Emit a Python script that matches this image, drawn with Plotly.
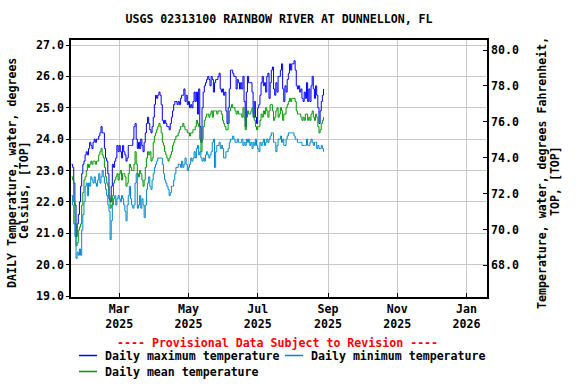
import pandas as pd
import plotly.graph_objects as go

start_date = "2025-01-18"

max_temp = [
    23.2, 23.1, 22.6, 21.9, 20.9, 21.3, 21.6, 22.0, 22.5, 22.9,
    23.2, 23.3, 23.5, 23.6, 23.5, 23.7, 23.9, 23.8, 23.7, 23.9,
    24.0, 23.9, 24.0, 24.0, 24.1, 24.2, 24.4, 24.2, 24.2, 23.7,
    23.4, 23.3, 22.9, 22.1, 22.0, 22.5, 23.2, 23.1, 23.3, 23.4,
    23.8, 23.6, 23.8, 23.6, 23.4, 23.8, 23.6, 23.5, 23.3, 23.4,
    23.8, 23.8, 23.8, 23.8, 24.0, 24.4, 24.5, 24.0, 23.7, 23.9,
    23.7, 24.0, 23.8, 23.6, 23.9, 24.2, 24.5, 24.7, 24.5, 24.3,
    24.2, 24.4, 24.7, 25.1, 25.4, 25.3, 25.4, 25.5, 25.4, 25.1,
    24.6, 24.5, 24.6, 24.5, 24.4, 24.4, 24.3, 24.5, 24.7, 24.9,
    25.1, 25.2, 25.2, 25.1, 25.2, 25.1, 25.3, 25.4, 25.4, 25.6,
    25.2, 25.4, 25.1, 25.2, 25.0, 25.1, 25.0, 25.2, 25.5, 25.2,
    25.5, 24.8, 25.6, 24.4, 23.9, 25.0, 25.5, 25.7, 25.8, 25.9,
    26.0, 25.9, 25.7, 26.0, 25.9, 25.5, 25.8, 25.9, 25.9, 26.0,
    26.1, 25.6, 25.5, 25.6, 25.4, 25.5, 24.9, 24.5, 25.0, 25.6,
    26.2, 26.2, 26.1, 26.0, 26.0, 25.6, 25.9, 25.8, 25.6, 25.8,
    25.6, 26.0, 25.2, 24.4, 25.5, 26.0, 25.8, 25.8, 25.8, 25.5,
    24.7, 25.2, 24.7, 24.5, 25.0, 25.1, 25.4, 25.8, 26.0, 25.7,
    25.8, 25.5, 26.0, 26.1, 25.3, 25.8, 26.2, 26.3, 25.6, 25.4,
    25.8, 25.5, 26.0, 26.0, 26.2, 26.4, 25.6, 25.2, 25.7, 25.5,
    25.9, 26.1, 26.4, 26.2, 26.4, 26.4, 26.5, 26.2, 25.7, 25.6,
    25.7, 25.5, 25.6, 25.3, 25.2, 25.5, 25.3, 25.8, 25.2, 25.6,
    25.2, 25.7, 26.0, 25.6, 25.3, 25.7, 25.4, 25.0, 24.5, 24.9,
    25.2, 25.4, 25.6,
]

mean_temp = [
    22.8, 22.7, 22.0, 21.3, 20.6, 20.7, 21.1, 21.2, 21.3, 21.9,
    22.3, 22.7, 22.8, 23.0, 23.2, 23.1, 23.2, 23.3, 23.2, 23.3,
    23.3, 23.2, 23.3, 23.3, 23.5, 23.6, 23.7, 23.5, 23.4, 23.1,
    22.8, 22.6, 22.5, 22.2, 21.8, 21.9, 22.2, 22.6, 22.7, 22.8,
    22.9, 22.7, 22.9, 23.0, 22.7, 22.9, 22.9, 22.8, 22.5, 22.6,
    22.9, 23.2, 23.1, 23.0, 23.0, 23.2, 23.6, 23.2, 22.9, 22.8,
    23.0, 22.9, 22.7, 22.5, 22.7, 23.1, 23.4, 23.6, 23.5, 23.6,
    23.3, 23.4, 23.9, 24.1, 24.2, 24.3, 24.4, 24.5, 24.4, 24.2,
    23.9, 23.8, 23.6, 23.5, 23.4, 23.3, 23.4, 23.5, 23.6, 23.8,
    23.9, 24.0, 24.1, 24.1, 24.2, 24.3, 24.4, 24.4, 24.5, 24.4,
    24.3, 24.3, 24.2, 24.2, 24.1, 24.2, 24.2, 24.3, 24.3, 24.4,
    24.6, 24.5, 24.4, 24.0, 23.6, 24.0, 24.4, 24.6, 24.7, 24.8,
    24.8, 24.7, 24.8, 24.9, 24.7, 24.9, 24.9, 24.9, 24.8, 24.9,
    24.9, 24.9, 24.8, 24.6, 24.5, 24.4, 24.3, 24.3, 24.5, 24.9,
    25.0, 25.1, 25.0, 25.0, 24.9, 24.8, 24.9, 24.8, 24.8, 24.8,
    24.7, 25.0, 24.7, 24.3, 24.7, 24.9, 24.8, 24.8, 24.9, 25.0,
    24.8, 24.6, 24.4, 24.3, 24.4, 24.4, 24.6, 24.8, 24.7, 24.9,
    24.8, 25.0, 24.9, 24.7, 24.9, 25.1, 25.1, 24.9, 24.6, 24.7,
    24.9, 25.0, 24.7, 24.8, 25.0, 24.9, 24.6, 24.8, 24.8, 25.0,
    25.1, 25.2, 25.3, 25.2, 25.3, 25.3, 25.3, 25.2, 24.9, 24.8,
    24.8, 24.8, 24.7, 24.6, 24.7, 24.6, 24.8, 24.8, 24.6, 24.7,
    24.6, 24.8, 24.9, 24.7, 24.6, 24.8, 24.7, 24.4, 24.2, 24.3,
    24.5, 24.6, 24.7,
]

min_temp = [
    22.2, 21.9, 21.3, 20.9, 20.2, 20.4, 20.3, 20.5, 20.3, 21.1,
    21.6, 22.0, 22.5, 22.6, 22.2, 22.6, 22.5, 22.8, 22.7, 22.6,
    22.8, 22.6, 22.5, 22.7, 22.9, 22.6, 22.8, 23.0, 22.8, 22.6,
    22.4, 22.2, 21.9, 21.7, 20.8, 21.4, 21.9, 22.1, 22.2, 21.9,
    22.1, 22.2, 22.1, 22.0, 22.2, 22.1, 21.9, 21.7, 21.4, 21.9,
    22.2, 22.5, 22.1, 21.9, 21.8, 21.9, 22.6, 22.9, 21.8, 21.9,
    22.2, 21.8, 22.1, 21.9, 21.5, 21.9, 22.4, 22.6, 22.8, 22.5,
    22.4, 22.7, 22.9, 23.1, 23.2, 23.3, 23.4, 23.4, 23.4, 23.4,
    23.2, 22.9, 22.7, 22.6, 22.5, 22.4, 22.2, 22.3, 22.5, 22.5,
    22.7, 22.9, 23.1, 23.1, 23.2, 23.2, 23.1, 23.3, 23.1, 23.2,
    23.4, 23.2, 23.0, 23.1, 23.2, 23.4, 23.3, 23.4, 23.6, 23.4,
    23.7, 23.8, 23.5, 23.6, 23.4, 23.3, 23.4, 23.3, 23.5, 23.6,
    23.5, 23.4, 23.5, 23.6, 23.9, 24.0, 23.1, 23.6, 23.8, 23.8,
    23.9, 23.7, 23.8, 23.7, 23.4, 23.4, 23.6, 23.6, 23.7, 23.9,
    24.0, 24.0, 24.1, 24.0, 23.9, 23.9, 24.0, 23.9, 23.9, 23.9,
    24.0, 23.8, 23.9, 23.8, 24.0, 23.9, 24.0, 23.8, 23.9, 23.7,
    23.9, 23.8, 24.0, 23.8, 23.7, 23.6, 23.9, 23.8, 23.9, 24.0,
    23.8, 23.9, 24.0, 23.9, 24.0, 24.1, 24.2, 24.2, 23.9, 23.9,
    23.6, 23.8, 24.0, 24.0, 24.1, 23.9, 24.0, 23.8, 23.8, 24.0,
    24.1, 24.2, 24.2, 24.2, 24.2, 24.2, 24.1, 24.0, 24.0, 23.9,
    23.9, 23.9, 23.9, 23.8, 23.8, 23.8, 23.8, 24.0, 23.8, 23.8,
    23.9, 24.0, 23.9, 23.8, 23.9, 23.9, 23.7, 23.8, 23.7, 23.7,
    23.8, 23.7, 23.6,
]

series_names = ["Daily maximum temperature", "Daily minimum temperature", "Daily mean temperature"]
series_colors = ["#0000FF", "#0088CC", "#009900"]
title_text = "USGS 02313100 RAINBOW RIVER AT DUNNELLON, FL"
left_title_lines = ["DAILY Temperature, water, degrees", "Celsius, [TOP]"]
right_title_lines = ["Temperature, water, degrees Fahrenheit,", "TOP, [TOP]"]
provisional = "---- Provisional Data Subject to Revision ----"

dates = pd.date_range(start_date, periods=len(max_temp), freq="D")

FONT = "DejaVu Sans Mono"
FS = 11.6

# figure fills the whole window (page body margin removed below)
OFF = 0
FW, FH = 576, 384
L, T = 71, 40
R = FW - 487
B = FH - 297
PW, PH = FW - L - R, FH - T - B


def px(sx):
    return (sx - OFF - L) / PW


def py(sy):
    return (FH - B - (sy - OFF)) / PH


fig = go.Figure()
for vals, name, col in [(max_temp, series_names[0], series_colors[0]),
                        (mean_temp, series_names[2], series_colors[2]),
                        (min_temp, series_names[1], series_colors[1])]:
    fig.add_trace(go.Scatter(x=dates, y=vals, mode="lines", name=name,
                             line=dict(color=col, width=1, shape="hv"),
                             showlegend=False))
# register the Fahrenheit axis
fig.add_trace(go.Scatter(x=[], y=[], yaxis="y2", showlegend=False))

fig.update_layout(
    width=FW, height=FH,
    margin=dict(l=L, r=R, t=T, b=B, autoexpand=False),
    paper_bgcolor="white", plot_bgcolor="white",
    font=dict(family=FONT, size=FS, color="black", weight="bold"),
    title=dict(text=title_text, x=0.5, xref="paper", xanchor="center",
               y=1 - (19 - OFF) / FH, yanchor="middle", font=dict(size=FS)),
    xaxis=dict(type="date", range=["2025-01-17 14:00", "2026-01-19"],
               dtick="M2", tick0="2025-01-01", tickformat="%b<br>%Y",
               showgrid=True, gridcolor="#C8C8C8", gridwidth=1,
               ticks="inside", ticklen=4, tickcolor="black",
               showline=True, linecolor="black", linewidth=1.5, mirror=True,
               zeroline=False),
    yaxis=dict(range=[18.97, 27.16], dtick=1, tick0=19, tickformat=".1f",
               showgrid=True, gridcolor="#C8C8C8", gridwidth=1,
               ticks="outside", ticklen=3, tickcolor="black",
               showline=True, linecolor="black", linewidth=1.5,
               zeroline=False),
    yaxis2=dict(range=[66.24, 80.56], dtick=2, tick0=68, tickformat=".1f",
                overlaying="y", side="right", showgrid=False,
                ticks="inside", ticklen=4, tickcolor="black",
                showline=True, linecolor="black", linewidth=1.5,
                zeroline=False),
)

annotations = [
    dict(text=provisional, x=px(277), y=py(343), xref="paper", yref="paper",
         xanchor="center", yanchor="middle", showarrow=False,
         font=dict(color="#FF0000", size=FS)),
]
# axis titles (rotated), placed line by line
for text, sx, sy in [(left_title_lines[0], 12, 173), (left_title_lines[1], 24, 190),
                     (right_title_lines[0], 542, 173), (right_title_lines[1], 555, 181)]:
    annotations.append(dict(text=text, x=px(sx), y=py(sy), xref="paper", yref="paper",
                            xanchor="center", yanchor="middle", showarrow=False,
                            textangle=-90, font=dict(size=FS)))

shapes = []
legend_items = [
    (series_names[0], series_colors[0], 79, 97, 103, 356),
    (series_names[1], series_colors[1], 285, 303, 309, 356),
    (series_names[2], series_colors[2], 79, 97, 103, 372),
]
for name, col, x0, x1, tx, ty in legend_items:
    shapes.append(dict(type="line", xref="paper", yref="paper",
                       x0=px(x0), x1=px(x1), y0=py(ty - 0.5), y1=py(ty - 0.5),
                       line=dict(color=col, width=1.5)))
    annotations.append(dict(text=name, x=px(tx), y=py(ty), xref="paper", yref="paper",
                            xanchor="left", yanchor="middle", showarrow=False,
                            font=dict(size=FS)))
fig.update_layout(annotations=annotations, shapes=shapes)

fig.write_html("out.html",
               config={"displayModeBar": False},
               post_script="document.body.style.margin='0px';"
                           "document.body.style.overflow='hidden';")
